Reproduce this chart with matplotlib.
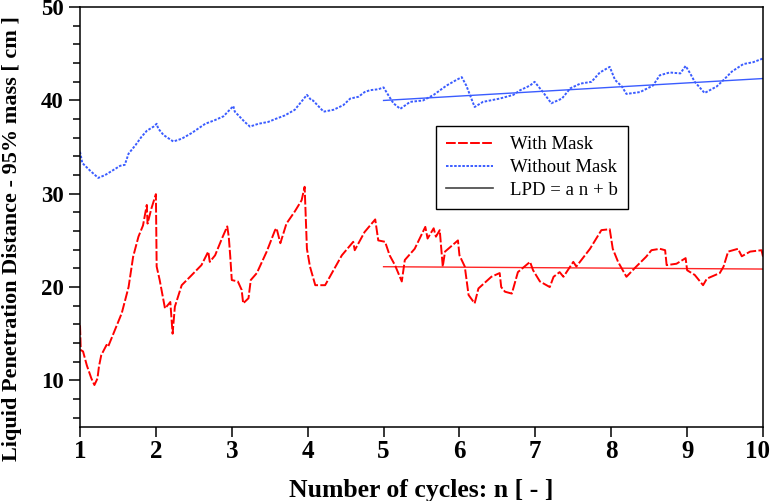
import numpy as np
import matplotlib
matplotlib.use("Agg")
import matplotlib.pyplot as plt
import matplotlib.transforms as mtransforms

# values
n_no_mask = [1.0, 1.03, 1.13, 1.24, 1.33, 1.53, 1.59, 1.64, 1.73, 1.81, 1.88, 1.97, 2.01, 2.03,
             2.10, 2.23, 2.34, 2.47, 2.65, 2.78, 2.89, 3.02, 3.04, 3.17, 3.24, 3.35, 3.48, 3.57,
             3.70, 3.83, 3.99, 4.05, 4.07, 4.21, 4.34, 4.47, 4.56, 4.67, 4.75, 4.82, 4.93, 5.0,
             5.06, 5.13, 5.22, 5.35, 5.52, 5.66, 5.83, 5.96, 6.03, 6.09, 6.20, 6.31, 6.53, 6.71,
             6.80, 6.93, 6.99, 7.10, 7.21, 7.35, 7.46, 7.59, 7.74, 7.85, 7.98, 8.05, 8.14, 8.20,
             8.38, 8.55, 8.64, 8.77, 8.91, 8.98, 9.04, 9.10, 9.23, 9.39, 9.48, 9.59, 9.74, 9.87, 10.0]
lpd_no_mask = [34.5, 33.3, 32.5, 31.7, 32.0, 33.0, 33.1, 34.3, 35.2, 36.1, 36.75, 37.2, 37.5, 37.0,
               36.3, 35.6, 35.9, 36.5, 37.5, 37.9, 38.3, 39.4, 38.8, 37.7, 37.2, 37.5, 37.7, 38.0,
               38.4, 39.0, 40.6, 40.0, 40.0, 38.8, 39.0, 39.5, 40.2, 40.4, 40.9, 41.1, 41.2, 41.4,
               40.6, 39.7, 39.1, 39.85, 40.0, 40.6, 41.6, 42.2, 42.5, 41.6, 39.3, 39.85, 40.2, 40.6,
               41.1, 41.6, 42.0, 40.9, 39.7, 40.2, 41.3, 41.8, 42.0, 43.0, 43.6, 42.2, 41.5, 40.7,
               40.9, 41.6, 42.7, 43.0, 42.9, 43.7, 42.9, 42.0, 40.8, 41.5, 42.2, 43.1, 43.9, 44.1, 44.5]

n_mask = [1.0, 1.01, 1.04, 1.09, 1.15, 1.19, 1.23, 1.25, 1.28, 1.35, 1.37, 1.44, 1.55, 1.64,
          1.70, 1.77, 1.83, 1.88, 1.89, 1.94, 2.0, 2.01, 2.05, 2.12, 2.19, 2.22, 2.25, 2.34,
          2.45, 2.60, 2.69, 2.71, 2.78, 2.87, 2.94, 2.96, 2.98, 3.0, 3.08, 3.13, 3.15, 3.22,
          3.25, 3.33, 3.46, 3.57, 3.59, 3.64, 3.72, 3.83, 3.92, 3.96, 3.99, 4.03, 4.10, 4.23,
          4.34, 4.45, 4.60, 4.62, 4.75, 4.89, 4.93, 5.02, 5.08, 5.15, 5.24, 5.28, 5.41, 5.55,
          5.58, 5.66, 5.69, 5.74, 5.78, 5.81, 5.98, 6.0, 6.07, 6.12, 6.20, 6.25, 6.42, 6.53,
          6.55, 6.60, 6.69, 6.77, 6.93, 6.97, 7.06, 7.19, 7.24, 7.32, 7.37, 7.50, 7.54, 7.72,
          7.87, 7.98, 8.02, 8.09, 8.20, 8.33, 8.46, 8.53, 8.64, 8.71, 8.73, 8.86, 8.98, 9.0,
          9.10, 9.21, 9.26, 9.43, 9.48, 9.54, 9.67, 9.72, 9.83, 9.98, 10.0]
lpd_mask = [15.9, 13.25, 13.1, 11.6, 10.2, 9.5, 10.2, 11.5, 12.7, 13.8, 13.6, 15.0, 17.2, 20.0,
            23.25, 25.4, 26.6, 28.8, 26.8, 28.4, 29.96, 22.2, 20.75, 17.7, 18.4, 15.0, 17.9, 20.2,
            21.1, 22.35, 23.8, 22.7, 23.4, 25.2, 26.5, 25.4, 23.25, 20.75, 20.6, 19.7, 18.25, 18.8,
            20.75, 21.5, 23.8, 26.1, 26.3, 24.7, 26.8, 28.1, 29.3, 30.75, 24.1, 22.2, 20.2, 20.2,
            21.8, 23.4, 24.85, 23.95, 25.9, 27.25, 25.0, 24.85, 23.4, 22.35, 20.6, 22.9, 24.1, 26.45,
            25.2, 26.3, 25.4, 26.1, 22.2, 23.8, 25.0, 23.4, 22.2, 19.15, 18.25, 19.85, 21.1, 21.5,
            20.0, 19.5, 19.3, 21.6, 22.7, 21.8, 20.6, 20.0, 21.1, 21.6, 21.1, 22.7, 22.2, 24.1,
            26.1, 26.2, 24.1, 22.7, 21.1, 22.2, 23.25, 23.95, 24.1, 23.95, 22.35, 22.5, 23.1, 21.8,
            21.3, 20.2, 20.9, 21.5, 22.2, 23.8, 24.1, 23.3, 23.8, 23.95, 23.25]

# linear fits LPD = a n + b over cycles 5..10
fit_range = [5, 10]
a_no_mask, b_no_mask = 0.47, 37.65
a_mask, b_mask = -0.05, 22.43

plt.rcParams['font.family'] = ['Liberation Serif', 'DejaVu Serif']

fig = plt.figure(figsize=(7.73, 5.01), dpi=100)
ax = fig.add_axes([0.1035, 0.1477, 0.8836, 0.838])

red = '#ff0000'
blue = '#3a5cff'
ax.plot(n_mask, lpd_mask, color=red, lw=1.4, ls=(0, (5, 1.2)), label='With Mask')
ax.plot(n_no_mask, lpd_no_mask, color=blue, lw=1.4, ls=(0, (1.3, 0.8)), label='Without Mask')

nf = np.array(fit_range)
ax.plot(nf, a_mask * nf + b_mask, color=red, lw=1.0, alpha=0.85)
ax.plot(nf, a_no_mask * nf + b_no_mask, color=blue, lw=1.0)
ax.plot([], [], color='#444444', lw=1.2, label='LPD = a n + b')

ax.set_xlim(1, 10)
ax.set_ylim(5, 50)
ax.set_xticks(range(1, 11))
ax.set_yticks([10, 20, 30, 40, 50])
ax.set_yticks(np.arange(6, 50, 2), minor=True)

for s in ax.spines.values():
    s.set_linewidth(1.1)
ax.tick_params(axis='x', direction='out', length=7.5, width=1.1, pad=2, labelsize=18)
ax.tick_params(axis='y', which='major', direction='out', length=7.7, width=1.1, pad=4, labelsize=16.5)
ax.tick_params(axis='y', which='minor', direction='out', length=4.8, width=1.1)
for lab in ax.get_xticklabels() + ax.get_yticklabels():
    lab.set_fontweight('bold')
# nudge last x label so it stays inside the figure
last = ax.get_xticklabels()[-1]
last.set_transform(last.get_transform() + mtransforms.ScaledTranslation(-4 / 72, 0, fig.dpi_scale_trans))

ax.set_xlabel('Number of cycles: n [ - ]', fontsize=18.5, fontweight='bold')
ax.xaxis.set_label_coords(0.5, -0.125)
ax.set_ylabel('Liquid Penetration Distance - 95% mass [ cm ]', fontsize=16, fontweight='bold')
ax.yaxis.set_label_coords(-0.085, 0.45)

leg = ax.legend(loc='upper left', bbox_to_anchor=(0.521, 0.717), borderaxespad=0,
                fontsize=13.5, fancybox=False, framealpha=1, edgecolor='black',
                handlelength=2.5, labelspacing=0.3, borderpad=0.55, handletextpad=0.9)
leg.get_frame().set_linewidth(1.0)

fig.savefig('out.png', dpi=100)
